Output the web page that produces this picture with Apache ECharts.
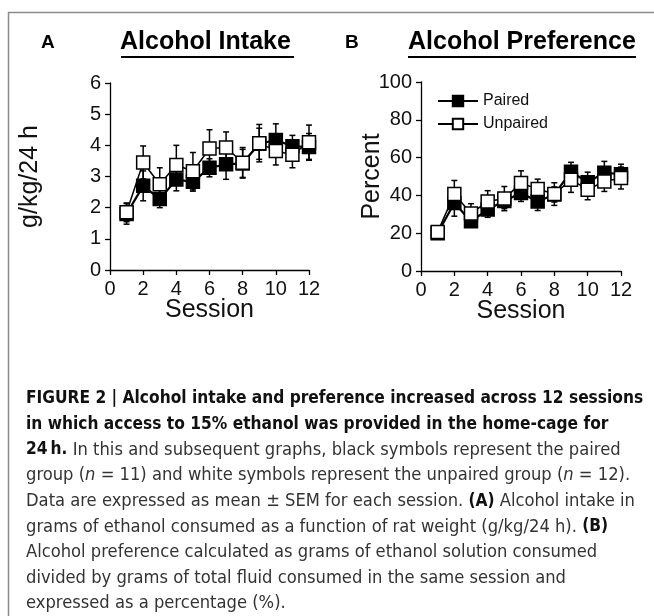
<!DOCTYPE html>
<html>
<head>
<meta charset="utf-8">
<script src="https://cdn.jsdelivr.net/npm/echarts@6/dist/echarts.min.js"></script>
<style>
  html, body { margin: 0; padding: 0; background: #fff; }
  #main { width: 654px; height: 616px; }
</style>
</head>
<body>
<div id="main"></div>
<script>
// sessions 1..12
var sessions = [1, 2, 3, 4, 5, 6, 7, 8, 9, 10, 11, 12];

// A: alcohol intake (g/kg/24 h), mean and SEM
var intakePaired      = [1.80, 2.70, 2.28, 2.90, 2.83, 3.28, 3.39, 3.42, 4.05, 4.17, 3.97, 3.95];
var intakePairedSem   = [0.33, 0.48, 0.28, 0.36, 0.30, 0.29, 0.48, 0.45, 0.50, 0.52, 0.35, 0.43];
var intakeUnpaired    = [1.85, 3.45, 2.75, 3.37, 3.17, 3.90, 3.93, 3.44, 4.07, 3.82, 3.70, 4.10];
var intakeUnpairedSem = [0.30, 0.53, 0.53, 0.63, 0.60, 0.60, 0.50, 0.49, 0.60, 0.45, 0.42, 0.55];

// B: alcohol preference (percent), mean and SEM
var prefPaired      = [20.0, 36.0, 26.3, 32.5, 37.0, 41.3, 36.8, 40.5, 52.5, 47.0, 52.0, 51.2];
var prefPairedSem   = [3.0, 7.0, 2.3, 4.1, 4.0, 4.5, 4.8, 4.0, 5.0, 5.3, 6.0, 5.3];
var prefUnpaired    = [20.7, 40.7, 30.4, 36.8, 38.3, 46.5, 43.4, 40.7, 48.3, 43.0, 47.4, 49.2];
var prefUnpairedSem = [3.0, 7.2, 5.2, 5.7, 6.4, 6.5, 5.2, 6.0, 6.7, 5.3, 5.3, 5.8];

var FONT = "'Liberation Sans', Arial, sans-serif";
var NARROW = "'DejaVu Sans Condensed', 'Liberation Sans', sans-serif";

var chart = echarts.init(document.getElementById('main'));

function pairs(vals) {
  return sessions.map(function (s, i) { return [s, vals[i]]; });
}

// error bars drawn as custom series
function errorBars(idx, means, sems, z) {
  return {
    type: 'custom',
    xAxisIndex: idx,
    yAxisIndex: idx,
    z: z,
    silent: true,
    renderItem: function (params, api) {
      var top = api.coord([api.value(0), api.value(2)]);
      var bot = api.coord([api.value(0), api.value(1)]);
      var c = 3;
      var st = { stroke: '#000', lineWidth: 1.5 };
      return {
        type: 'group',
        children: [
          { type: 'line', shape: { x1: top[0], y1: top[1], x2: bot[0], y2: bot[1] }, style: st },
          { type: 'line', shape: { x1: top[0] - c, y1: top[1], x2: top[0] + c, y2: top[1] }, style: st },
          { type: 'line', shape: { x1: bot[0] - c, y1: bot[1], x2: bot[0] + c, y2: bot[1] }, style: st }
        ]
      };
    },
    encode: { x: 0, y: [1, 2] },
    data: sessions.map(function (s, i) {
      return [s, means[i] - sems[i], means[i] + sems[i]];
    })
  };
}

function lineSeries(name, idx, vals, filled, z) {
  return {
    name: name,
    type: 'line',
    xAxisIndex: idx,
    yAxisIndex: idx,
    z: z,
    symbol: 'rect',
    symbolSize: 13,
    showAllSymbol: true,
    lineStyle: { color: '#000', width: filled ? 2.2 : 1.5 },
    itemStyle: { color: filled ? '#000' : '#fff', borderColor: '#000', borderWidth: 1.5 },
    emphasis: { disabled: true },
    data: pairs(vals)
  };
}

function xAxis(idx) {
  return {
    type: 'value',
    gridIndex: idx,
    min: 0, max: 12, interval: 2,
    name: 'Session',
    nameLocation: 'middle',
    nameGap: 28,
    nameMoveOverlap: false,
    nameTextStyle: { fontFamily: FONT, fontSize: 25, color: '#111' },
    axisLine: { lineStyle: { color: '#000', width: 1.3 } },
    axisTick: { show: true, length: 5, lineStyle: { color: '#000', width: 1.3 } },
    axisLabel: { fontFamily: FONT, fontSize: 20, color: '#111', margin: 9 },
    splitLine: { show: false }
  };
}

function yAxis(idx, max, interval, name, gap) {
  return {
    type: 'value',
    gridIndex: idx,
    min: 0, max: max, interval: interval,
    name: name,
    nameLocation: 'middle',
    nameGap: gap,
    nameMoveOverlap: false,
    nameTextStyle: { fontFamily: FONT, fontSize: 25, color: '#111' },
    axisLine: { show: true, lineStyle: { color: '#000', width: 1.3 } },
    axisTick: { show: true, length: 5, lineStyle: { color: '#000', width: 1.3 } },
    axisLabel: { fontFamily: FONT, fontSize: 20, color: '#111', margin: 9 },
    splitLine: { show: false }
  };
}

var option = {
  backgroundColor: '#fff',
  animation: false,
  grid: [
    { left: 110, right: 345, top: 83, bottom: 346 },
    { left: 421, right: 33, top: 82, bottom: 345 }
  ],
  xAxis: [xAxis(0), xAxis(1)],
  yAxis: [
    yAxis(0, 6, 1, 'g/kg/24 h', 67),
    yAxis(1, 100, 20, 'Percent', 36)
  ],
  legend: {
    left: 432,
    top: 88,
    orient: 'vertical',
    itemWidth: 40,
    itemHeight: 13,
    itemGap: 7,
    data: ['Paired', 'Unpaired'],
    textStyle: { fontFamily: FONT, fontSize: 16, color: '#111' }
  },
  series: [
    // Panel A
    errorBars(0, intakePaired, intakePairedSem, 2),
    lineSeries('Paired', 0, intakePaired, true, 3),
    errorBars(0, intakeUnpaired, intakeUnpairedSem, 4),
    lineSeries('Unpaired', 0, intakeUnpaired, false, 5),
    // Panel B
    errorBars(1, prefPaired, prefPairedSem, 2),
    lineSeries('Paired', 1, prefPaired, true, 3),
    errorBars(1, prefUnpaired, prefUnpairedSem, 4),
    lineSeries('Unpaired', 1, prefUnpaired, false, 5)
  ],
  graphic: [
    // frame
    { type: 'rect', shape: { x: 8.5, y: 12.5, width: 700, height: 700 },
      style: { fill: 'none', stroke: '#8a8a8a', lineWidth: 1.5 }, silent: true },
    // panel letters and titles
    { type: 'text', left: 41, top: 33, style: { text: 'A', font: 'bold 19px ' + FONT, fill: '#000' } },
    { type: 'text', left: 345, top: 33, style: { text: 'B', font: 'bold 19px ' + FONT, fill: '#000' } },
    { type: 'text', left: 120, top: 30, style: { text: 'Alcohol Intake', font: 'bold 25px ' + FONT, fill: '#000' } },
    { type: 'text', left: 408, top: 30, style: { text: 'Alcohol Preference', font: 'bold 25px ' + FONT, fill: '#000' } },
    { type: 'line', shape: { x1: 121, y1: 57, x2: 294, y2: 57 }, style: { stroke: '#000', lineWidth: 2 } },
    { type: 'line', shape: { x1: 408, y1: 57, x2: 636, y2: 57 }, style: { stroke: '#000', lineWidth: 2 } },
    // caption
    {
      type: 'text', left: 26, top: 386,
      style: {
        text: [
          '{b|FIGURE 2 | Alcohol intake and preference increased across 12 sessions}',
          '{b|in which access to 15% ethanol was provided in the home-cage for}',
          '{b|24\u2009h.}{r| In this and subsequent graphs, black symbols represent the paired}',
          '{r|group (}{i|n}{r| = 11) and white symbols represent the unpaired group (}{i|n}{r| = 12).}',
          '{r|Data are expressed as mean \u00b1 SEM for each session. }{b|(A)}{r| Alcohol intake in}',
          '{r|grams of ethanol consumed as a function of rat weight (g/kg/24 h). }{b|(B)}',
          '{r|Alcohol preference calculated as grams of ethanol solution consumed}',
          '{r|divided by grams of total fluid consumed in the same session and}',
          '{r|expressed as a percentage (%).}'
        ].join('\n'),
        lineHeight: 25.6,
        rich: {
          b: { fontFamily: NARROW, fontWeight: 'bold', fontSize: 17.2, lineHeight: 25.6, fill: '#111' },
          r: { fontFamily: NARROW, fontSize: 18.2, lineHeight: 25.6, fill: '#333' },
          i: { fontFamily: NARROW, fontStyle: 'italic', fontSize: 18.2, lineHeight: 25.6, fill: '#333' }
        }
      }
    }
  ]
};

chart.setOption(option);
</script>
</body>
</html>
